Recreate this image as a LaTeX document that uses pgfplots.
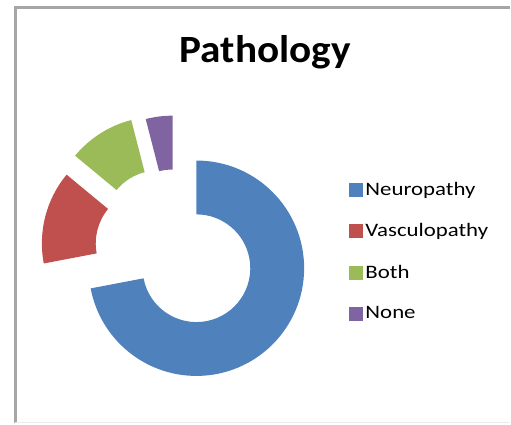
\documentclass[border=0pt]{standalone}
\usepackage{pgfplots}
\usepackage{pgfplotstable}
\pgfplotsset{compat=1.18}
\usepackage{fontspec}
\setmainfont{Carlito}
\newfontfamily\legfont[FakeStretch=1.2]{Carlito}
\newfontfamily\titfont[FakeStretch=1.07]{Carlito}
\definecolor{neuro}{HTML}{4F81BD}
\definecolor{vasc}{HTML}{C0504D}
\definecolor{both}{HTML}{9BBB59}
\definecolor{nonec}{HTML}{8064A2}
% value (percent), explode offset dx dy (px), colour
\pgfplotstableread{
label value dx dy col
Neuropathy 72 0 0 neuro
Vasculopathy 14 -47 25 vasc
Both 10 -38.5 44 both
None 4 -24 45 nonec
}\pathdata
\begin{document}
\begin{tikzpicture}
\begin{axis}[
  hide axis, scale only axis, disabledatascaling,
  x=0.75pt, y=0.75pt,
  xmin=0, xmax=511, ymin=0, ymax=424,
  clip=false,
  legend style={at={(axis cs:346,172)}, anchor=west, draw=none, fill=none,
    font=\legfont\fontsize{14.3}{16}\selectfont, row sep=15.7pt,
    /tikz/every even column/.append style={column sep=0pt}},
  legend cell align=left,
]
\path (axis cs:0,0) rectangle (axis cs:511,424);
\def\cx{197}\def\cy{155}\def\R{108}\def\r{54}
\pgfplotstablegetrowsof{\pathdata}
\pgfmathtruncatemacro\N{\pgfplotsretval-1}
\def\accA{90}
\pgfplotsforeachungrouped \i in {0,...,\N}{%
  \pgfplotstablegetelem{\i}{value}\of\pathdata \let\val\pgfplotsretval
  \pgfplotstablegetelem{\i}{dx}\of\pathdata \let\ddx\pgfplotsretval
  \pgfplotstablegetelem{\i}{dy}\of\pathdata \let\ddy\pgfplotsretval
  \pgfplotstablegetelem{\i}{col}\of\pathdata \let\scol\pgfplotsretval
  \pgfmathsetmacro\accB{\accA-3.6*\val}
  \pgfmathsetmacro\ox{\cx+\ddx+\R*cos(\accA)}
  \pgfmathsetmacro\oy{\cy+\ddy+\R*sin(\accA)}
  \pgfmathsetmacro\ix{\cx+\ddx+\r*cos(\accB)}
  \pgfmathsetmacro\iy{\cy+\ddy+\r*sin(\accB)}
  \edef\temp{\noexpand\fill[\scol] (axis cs:\ox,\oy) arc[start angle=\accA, end angle=\accB, radius=\R*0.75pt] -- (axis cs:\ix,\iy) arc[start angle=\accB, end angle=\accA, radius=\r*0.75pt] -- cycle;}%
  \temp
  \let\accA\accB
}
\draw[color=black!35, line width=2.2pt] (axis cs:15.5,0) -- (axis cs:15.5,416.5) -- (axis cs:511,416.5);
\draw[color=black!8, line width=1pt] (axis cs:15.5,0.5) -- (axis cs:511,0.5);
\node[anchor=base, font=\titfont\fontsize{29}{34}\selectfont\bfseries] at (axis cs:266,361) {Pathology};
\addlegendimage{legend image code/.code={\fill[neuro] (0pt,-4.9pt) rectangle (9.8pt,4.9pt);}}
\addlegendentry{Neuropathy}
\addlegendimage{legend image code/.code={\fill[vasc] (0pt,-4.9pt) rectangle (9.8pt,4.9pt);}}
\addlegendentry{Vasculopathy}
\addlegendimage{legend image code/.code={\fill[both] (0pt,-4.9pt) rectangle (9.8pt,4.9pt);}}
\addlegendentry{Both}
\addlegendimage{legend image code/.code={\fill[nonec] (0pt,-4.9pt) rectangle (9.8pt,4.9pt);}}
\addlegendentry{None}
\end{axis}
\end{tikzpicture}
\end{document}
